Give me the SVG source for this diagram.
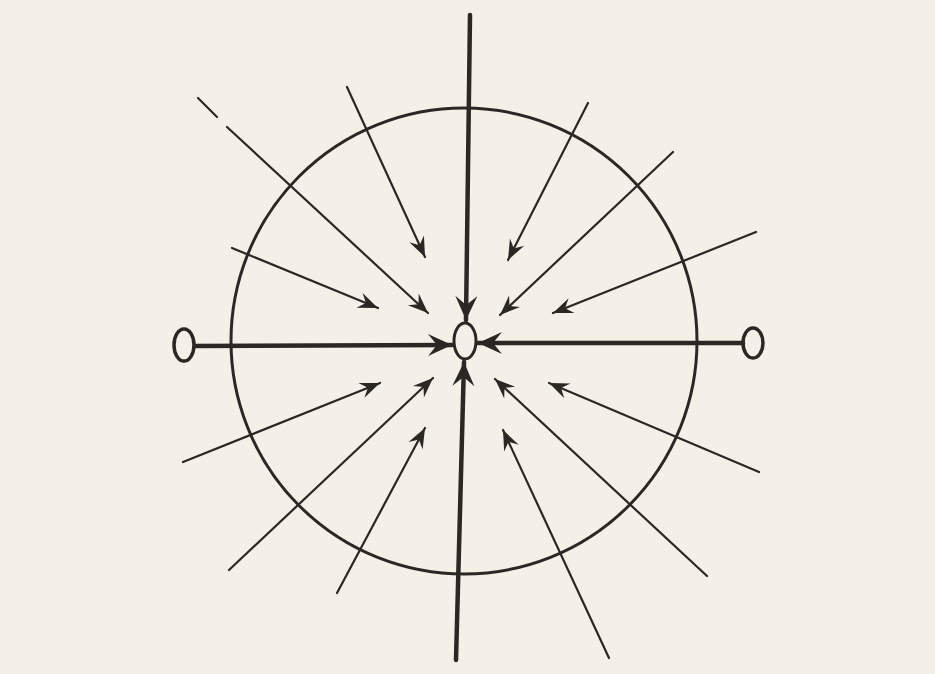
<svg xmlns="http://www.w3.org/2000/svg" width="935" height="674" viewBox="0 0 935 674">
<style>
.ink{stroke:#2b2725;fill:none;stroke-linecap:round}
.thin{stroke-width:2.2}
.thick{stroke-width:4.5}
.ring{stroke-width:3}
</style>
<defs>
<marker id="ah" viewBox="-22 -11 24 22" refX="0" refY="0" markerWidth="24" markerHeight="22" markerUnits="userSpaceOnUse" orient="auto">
<path d="M0,0 L-20,-8 L-13,0 L-20,8 Z" fill="#2b2725"/>
</marker>
<marker id="ahb" viewBox="-26 -13 28 26" refX="0" refY="0" markerWidth="28" markerHeight="26" markerUnits="userSpaceOnUse" orient="auto">
<path d="M0,0 L-24,-11 L-15,0 L-24,11 Z" fill="#2b2725"/>
</marker>
</defs>
<rect width="935" height="674" fill="#f4f0e7"/>
<g id="boundary"><circle class="ink ring" cx="464" cy="341" r="233"/></g>
<g id="center-node"><ellipse class="ink" stroke-width="3" cx="465" cy="341" rx="11" ry="18"/></g>
<g id="left-node"><ellipse class="ink" stroke-width="3.5" cx="184" cy="345" rx="10" ry="16"/></g>
<g id="right-node"><ellipse class="ink" stroke-width="3.5" cx="753" cy="343" rx="10" ry="15"/></g>
<g id="connectors">
<line class="ink thick" x1="470" y1="15" x2="466" y2="320" marker-end="url(#ahb)"/>
<line class="ink thick" x1="456" y1="660" x2="464" y2="362" marker-end="url(#ahb)"/>
<line class="ink thick" x1="195" y1="346" x2="452" y2="345" marker-end="url(#ahb)"/>
<line class="ink thick" x1="743" y1="343" x2="478" y2="343" marker-end="url(#ahb)"/>
<line class="ink thin" x1="198" y1="98" x2="217" y2="117"/>
<line class="ink thin" x1="227" y1="127" x2="428" y2="313" marker-end="url(#ah)"/>
<line class="ink thin" x1="347" y1="87" x2="425" y2="257" marker-end="url(#ah)"/>
<line class="ink thin" x1="232" y1="248" x2="378" y2="308" marker-end="url(#ah)"/>
<line class="ink thin" x1="588" y1="103" x2="508" y2="260" marker-end="url(#ah)"/>
<line class="ink thin" x1="673" y1="152" x2="500" y2="315" marker-end="url(#ah)"/>
<line class="ink thin" x1="756" y1="232" x2="553" y2="313" marker-end="url(#ah)"/>
<line class="ink thin" x1="183" y1="462" x2="380" y2="383" marker-end="url(#ah)"/>
<line class="ink thin" x1="229" y1="570" x2="433" y2="378" marker-end="url(#ah)"/>
<line class="ink thin" x1="337" y1="593" x2="425" y2="428" marker-end="url(#ah)"/>
<line class="ink thin" x1="759" y1="472" x2="549" y2="383" marker-end="url(#ah)"/>
<line class="ink thin" x1="707" y1="576" x2="495" y2="379" marker-end="url(#ah)"/>
<line class="ink thin" x1="609" y1="658" x2="503" y2="430" marker-end="url(#ah)"/>
</g>
</svg>
